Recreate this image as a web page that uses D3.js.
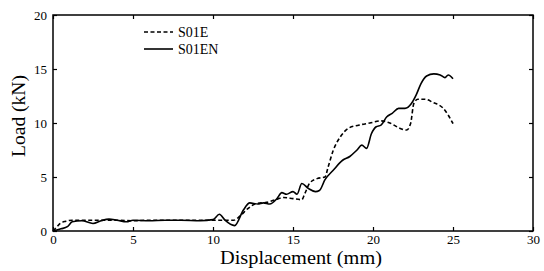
<!DOCTYPE html>
<html><head><meta charset="utf-8">
<script src="https://cdn.jsdelivr.net/npm/d3@7"></script>
<style>body{margin:0;background:#fff}svg{display:block}</style>
</head><body><svg id="c" width="544" height="271" font-family="'Liberation Serif', 'Times New Roman', serif"></svg>
<script>
const xTicks = [0,5,10,15,20,25,30];
const yTicks = [0,5,10,15,20];
const seriesNames = ["S01E","S01EN"];
const s01e = [[0,0],[0.2,0.3],[0.45,0.7],[0.8,0.9],[1.2,1.0],[2,1.0],[3,1.0],[4,1.0],[5,0.95],[6,1.0],[7,1.0],[8,1.0],[9,1.0],[10,1.0],[11,1.0],[11.3,1.0],[11.7,1.4],[12.2,2.1],[12.7,2.55],[13.35,2.65],[14.0,2.95],[14.4,3.1],[15.0,3.0],[15.55,2.9],[15.75,3.5],[16.05,4.45],[16.5,4.85],[17.0,5.0],[17.2,5.95],[17.5,7.4],[17.95,8.7],[18.45,9.5],[19.1,9.8],[19.8,10.0],[20.5,10.2],[21.05,10.0],[21.7,9.5],[22.1,9.35],[22.35,9.95],[22.55,11.8],[22.8,12.2],[23.25,12.2],[23.75,11.9],[24.4,11.35],[25,9.95]];
const s01en = [[0,0],[0.5,0.2],[0.9,0.4],[1.2,0.85],[1.8,0.95],[2.5,0.7],[3.0,0.95],[3.5,1.1],[4.0,1.0],[4.6,0.85],[5.0,1.0],[6,0.95],[7,1.0],[8,1.0],[9.2,0.95],[10.0,1.05],[10.4,1.55],[10.75,1.0],[11.35,0.5],[11.9,1.95],[12.3,2.6],[12.8,2.5],[13.15,2.6],[13.55,2.5],[14.0,3.0],[14.3,3.55],[14.6,3.4],[15.0,3.65],[15.25,3.4],[15.55,4.4],[15.95,3.95],[16.4,3.65],[16.65,3.75],[17.0,4.75],[17.5,5.6],[18.1,6.55],[18.55,6.9],[19.0,7.5],[19.3,7.95],[19.6,7.65],[19.9,9.0],[20.2,9.65],[20.5,9.8],[20.85,10.55],[21.2,10.9],[21.6,11.35],[22.0,11.35],[22.4,11.8],[22.7,12.6],[23.0,13.65],[23.35,14.35],[23.8,14.55],[24.2,14.45],[24.5,14.2],[24.7,14.45],[25.0,14.1]];

const FONT = "'Liberation Serif', 'Times New Roman', serif";
const svg = d3.select("#c");
const L=53,R=533,T=15,B=231;
const x = d3.scaleLinear().domain([0,30]).range([L,R]);
const y = d3.scaleLinear().domain([0,20]).range([B,T]);

function styleAxis(g){
  g.attr("font-family",FONT).attr("font-size",13);
  g.selectAll(".domain").remove();
  g.selectAll(".tick line").attr("stroke","#000").attr("stroke-width",1.2);
  g.selectAll("text").attr("fill","#000");
}
svg.append("g").attr("transform",`translate(0,${B})`)
  .call(d3.axisBottom(x).tickValues(xTicks).tickSize(-4).tickPadding(4).tickFormat(d3.format("d")))
  .call(styleAxis);
svg.append("g").attr("transform",`translate(0,${T})`)
  .call(d3.axisTop(x).tickValues(xTicks).tickSize(-4).tickFormat(""))
  .call(styleAxis);
svg.append("g").attr("transform",`translate(${L},0)`)
  .call(d3.axisLeft(y).tickValues(yTicks).tickSize(-4).tickPadding(6).tickFormat(d3.format("d")))
  .call(styleAxis);
svg.append("g").attr("transform",`translate(${R},0)`)
  .call(d3.axisRight(y).tickValues(yTicks).tickSize(-4).tickFormat(""))
  .call(styleAxis);
svg.append("rect").attr("x",L).attr("y",T).attr("width",R-L).attr("height",B-T)
  .attr("fill","none").attr("stroke","#000").attr("stroke-width",1.5);

const line = d3.line().x(d=>x(d[0])).y(d=>y(d[1])).curve(d3.curveMonotoneX);
svg.append("path").datum(s01e).attr("d",line).attr("fill","none").attr("stroke","#000")
  .attr("stroke-width",1.6).attr("stroke-dasharray","4,2.5");
svg.append("path").datum(s01en).attr("d",line).attr("fill","none").attr("stroke","#000")
  .attr("stroke-width",1.6);

// legend
const lg = svg.append("g").attr("font-family",FONT);
[0,1].forEach(i=>{
  const yy = 32 + i*17;
  lg.append("line").attr("x1",144).attr("x2",173).attr("y1",yy).attr("y2",yy)
    .attr("stroke","#000").attr("stroke-width",1.6).attr("stroke-dasharray", i===0?"4,2.5":null);
  lg.append("text").attr("x",178).attr("y",yy+5).attr("font-size",14).text(seriesNames[i]);
});

svg.append("text").attr("x",301).attr("y",264).attr("text-anchor","middle").attr("font-family",FONT)
  .attr("font-size",18).attr("textLength",162).attr("lengthAdjust","spacingAndGlyphs").text("Displacement (mm)");
svg.append("text").attr("transform","translate(25,116) rotate(-90)").attr("text-anchor","middle").attr("font-family",FONT)
  .attr("font-size",18).attr("textLength",82).attr("lengthAdjust","spacingAndGlyphs").text("Load (kN)");
</script></body></html>
